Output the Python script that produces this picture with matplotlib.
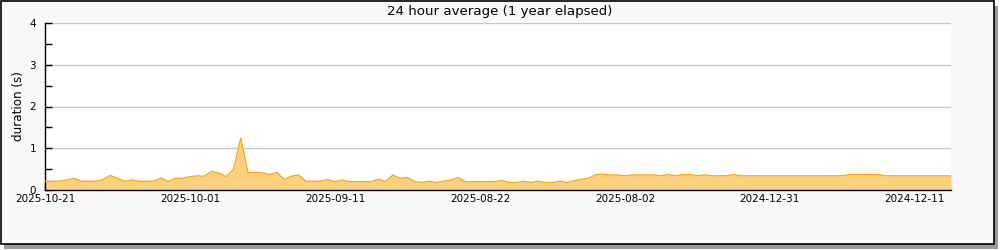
import numpy as np
import matplotlib.pyplot as plt
from matplotlib.patches import Rectangle

# daily 24h averages, newest first (seconds)
durations = [
    0.21, 0.21, 0.21, 0.24, 0.28, 0.21, 0.21, 0.21, 0.25, 0.35,
    0.28, 0.21, 0.24, 0.21, 0.21, 0.21, 0.29, 0.20, 0.28, 0.28,
    0.32, 0.34, 0.33, 0.45, 0.40, 0.32, 0.49, 1.24, 0.42, 0.42,
    0.41, 0.37, 0.42, 0.25, 0.33, 0.36, 0.21, 0.21, 0.21, 0.25,
    0.20, 0.24, 0.20, 0.20, 0.20, 0.20, 0.26, 0.20, 0.36, 0.28,
    0.30, 0.20, 0.18, 0.21, 0.18, 0.21, 0.24, 0.30, 0.20, 0.20,
    0.20, 0.20, 0.20, 0.23, 0.18, 0.18, 0.21, 0.18, 0.21, 0.18,
    0.18, 0.21, 0.18, 0.22, 0.26, 0.28, 0.37, 0.38, 0.36, 0.36,
    0.34, 0.36, 0.36, 0.36, 0.36, 0.34, 0.37, 0.34, 0.37, 0.37,
    0.34, 0.36, 0.34, 0.34, 0.34, 0.37, 0.34, 0.34, 0.34, 0.34,
    0.34, 0.34, 0.34, 0.34, 0.34, 0.34, 0.34, 0.34, 0.34, 0.34,
    0.34, 0.37, 0.37, 0.37, 0.37, 0.37, 0.34, 0.34, 0.34, 0.34,
    0.34, 0.34, 0.34, 0.34, 0.34, 0.34,
]

date_labels = ["2025-10-21", "2025-10-01", "2025-09-11", "2025-08-22",
               "2025-08-02", "2024-12-31", "2024-12-11"]

x = np.arange(len(durations))

fig = plt.figure(figsize=(10, 2.5), dpi=100)
fig.patch.set_facecolor("white")

# frame + shadow
fig.patches.append(Rectangle((0.004, 0.006), 0.994, 0.972, transform=fig.transFigure,
                             facecolor="#9a9a9a", edgecolor="none", zorder=-2))
fig.patches.append(Rectangle((0.0005, 0.024), 0.9935, 0.974, transform=fig.transFigure,
                             facecolor="#f9f9f9", edgecolor="black", linewidth=1.2, zorder=-1))

ax = fig.add_axes([0.045, 0.24, 0.906, 0.668])
ax.set_facecolor("white")

ax.fill_between(x, durations, 0, color="#ffd17f", linewidth=0, zorder=2)
ax.plot(x, durations, color="#ffa500", linewidth=0.9, zorder=3)

ax.set_xlim(0, len(durations) - 1)
ax.set_ylim(0, 4)

ax.set_xticks(np.arange(0, len(durations), 10))
ax.set_xticklabels([date_labels[i // 2] if i % 2 == 0 else "" for i in range(13)])
ax.set_yticks([0, 1, 2, 3, 4])
ax.set_yticks(np.arange(0.5, 4, 1.0), minor=True)

ax.tick_params(axis="both", direction="in", length=5, width=1, labelsize=7.5)
ax.tick_params(axis="x", pad=3)
ax.tick_params(axis="y", pad=6.5)
ax.tick_params(axis="y", which="minor", direction="in", length=5, width=1)

ax.grid(True, axis="y", color="#c8c8c8", linewidth=1)
ax.set_axisbelow(True)

for side in ["top", "right"]:
    ax.spines[side].set_visible(False)
ax.spines["left"].set_linewidth(1)
ax.spines["bottom"].set_linewidth(1)

ax.set_ylabel("duration (s)", fontsize=8.6, va="center")
ax.yaxis.set_label_coords(-0.0298, 0.5)
fig.text(0.5, 0.955, "24 hour average (1 year elapsed)", ha="center", va="center",
         fontsize=9.6)

plt.savefig("out.png", dpi=100, facecolor=fig.get_facecolor())
